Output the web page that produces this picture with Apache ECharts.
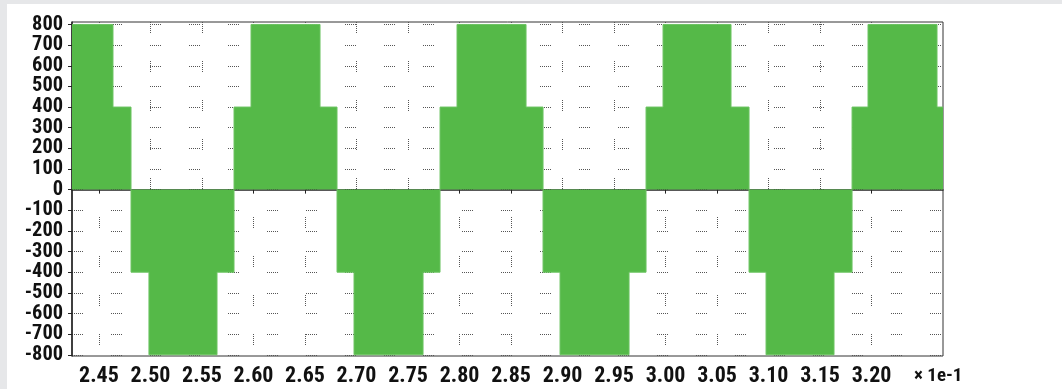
<!DOCTYPE html>
<html>
<head>
<meta charset="utf-8">
<script src="https://cdn.jsdelivr.net/npm/echarts@6/dist/echarts.min.js"></script>
<style>
  html, body { margin: 0; padding: 0; background: #e6e7e9; }
  #chart { width: 1062px; height: 389px; }
</style>
</head>
<body>
<div id="chart"></div>
<script>
// Time of each level change (x axis in units of 1e-1 s) and the level that starts there
const switchTimes = [2.4238, 2.4636, 2.4811, 2.4985, 2.5646, 2.5811, 2.5976, 2.6646, 2.6811, 2.6976,
  2.7646, 2.7811, 2.7976, 2.8646, 2.8811, 2.8976, 2.9646, 2.9811, 2.9976, 3.0636,
  3.0811, 3.0976, 3.1636, 3.1811, 3.1966, 3.2636, 3.2694];
const levels = [800, 400, -400, -800, -400, 400, 800, 400, -400, -800,
  -400, 400, 800, 400, -400, -800, -400, 400, 800, 400,
  -400, -800, -400, 400, 800, 400, 400];
const xTicks = [2.45, 2.50, 2.55, 2.60, 2.65, 2.70, 2.75, 2.80, 2.85, 2.90, 2.95, 3.00, 3.05, 3.10, 3.15, 3.20];
const yTicks = [-800, -700, -600, -500, -400, -300, -200, -100, 0, 100, 200, 300, 400, 500, 600, 700, 800];
const xRange = [2.4238, 3.2694];
const yRange = [-806, 812];
const scaleNote = '× 1e-1';

const seriesData = switchTimes.map((t, i) => [t, levels[i]]);
const FONT = '"Roboto Condensed", "Liberation Sans Narrow", "DejaVu Sans", sans-serif';
const GREEN = '#55b948';
const gridDash = [1, 1, 1, 1, 1, 1, 1, 1, 1, 1, 1, 28];

const chart = echarts.init(document.getElementById('chart'), null, { renderer: 'canvas' });
chart.setOption({
  backgroundColor: '#e6e7e9',
  animation: false,
  graphic: [
    { type: 'rect', z: -10, shape: { x: 7, y: 4, width: 1055, height: 385 }, style: { fill: '#ffffff' } },
    { type: 'text', left: 914, top: 367, style: { text: scaleNote, font: 'condensed bold 19px ' + FONT, fill: '#111' } }
  ],
  grid: {
    left: 72, right: 119, top: 22, bottom: 33,
    show: true, borderColor: '#333', borderWidth: 1, backgroundColor: 'transparent'
  },
  xAxis: {
    type: 'value',
    min: xRange[0], max: xRange[1],
    axisLine: { show: true, lineStyle: { color: '#222', width: 1.5 } },
    axisTick: { show: true, length: 4, customValues: xTicks, lineStyle: { color: '#222' } },
    axisLabel: {
      customValues: xTicks, margin: 9, showMinLabel: true, showMaxLabel: true, hideOverlap: false,
      formatter: v => v.toFixed(2),
      fontFamily: FONT, fontStyle: 'condensed', fontWeight: 'bold', fontSize: 22, color: '#111'
    },
    splitLine: { show: true, lineStyle: { color: '#555', width: 1, type: gridDash } }
  },
  yAxis: {
    type: 'value',
    min: yRange[0], max: yRange[1],
    axisLine: { show: true, lineStyle: { color: '#222', width: 1.5 } },
    axisTick: { show: true, length: 4, customValues: yTicks, lineStyle: { color: '#222' } },
    axisLabel: {
      customValues: yTicks, margin: 9, showMinLabel: true, showMaxLabel: true, hideOverlap: false,
      fontFamily: FONT, fontStyle: 'condensed', fontWeight: 'bold', fontSize: 20.4, color: '#111'
    },
    splitLine: { show: true, lineStyle: { color: '#555', width: 1, type: gridDash } }
  },
  series: [{
    type: 'line',
    data: seriesData,
    step: 'end',
    symbol: 'none',
    lineStyle: { color: '#6cc462', width: 1 },
    areaStyle: { color: GREEN, opacity: 1, origin: 0 },
    z: 3
  }]
});
</script>
</body>
</html>
